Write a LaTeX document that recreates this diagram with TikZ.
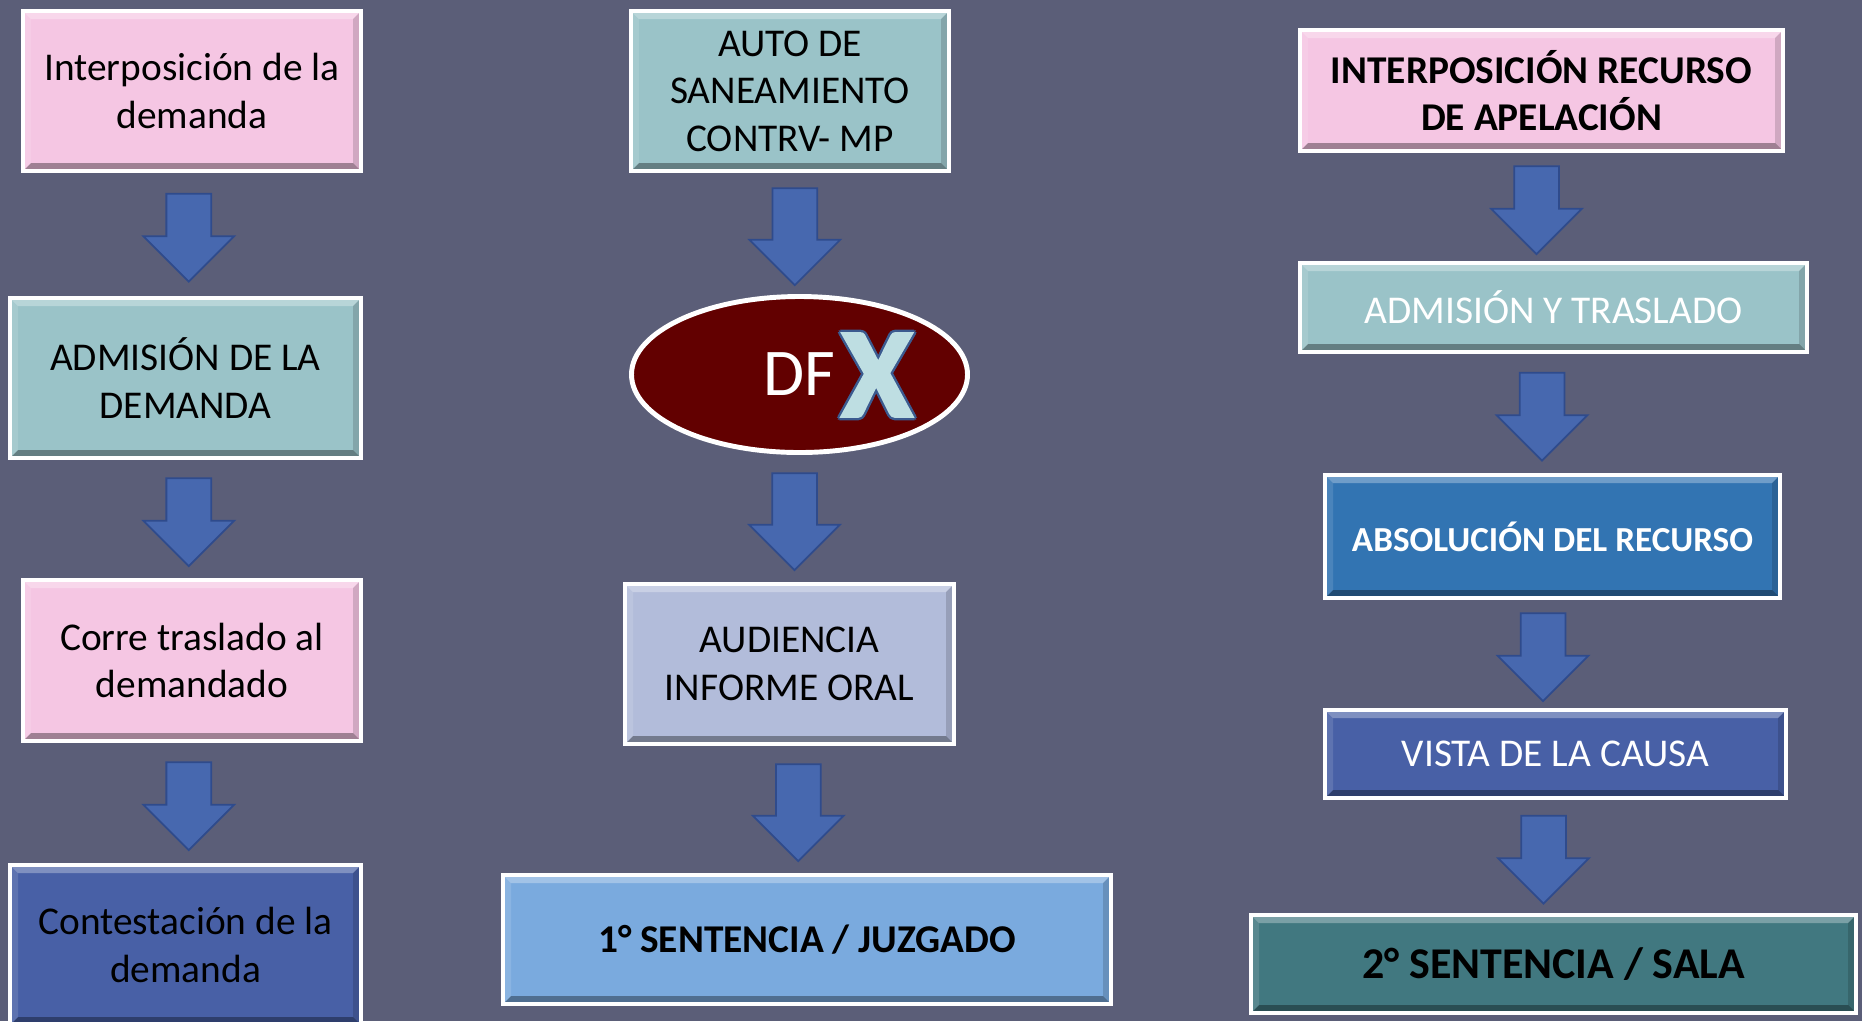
\documentclass[tikz,border=0pt]{standalone}
\usepackage{fontspec}
\setmainfont{Carlito}
\newfontfamily\equis[FakeBold=3]{Carlito Bold}
\usetikzlibrary{shapes.geometric,shapes.arrows,calc}

\definecolor{fondo}{HTML}{5B5E78}
\definecolor{rosa}{HTML}{F5C6E3}
\definecolor{verdeagua}{HTML}{9AC3C8}
\definecolor{azuloscuro}{HTML}{4860A6}
\definecolor{lavanda}{HTML}{B2BCDA}
\definecolor{celeste}{HTML}{7AAADE}
\definecolor{azulmedio}{HTML}{3274B2}
\definecolor{petroleo}{HTML}{417880}
\definecolor{granate}{HTML}{620000}
\definecolor{flecha}{HTML}{4768AF}
\definecolor{flechaborde}{HTML}{2F4B8C}
\definecolor{xrelleno}{HTML}{BEDEE2}
\definecolor{xborde}{HTML}{3B5A8F}

\begin{document}
\begin{tikzpicture}[
    bisel/.style={path picture={
        \path (path picture bounding box.south west) coordinate (sw)
              (path picture bounding box.north east) coordinate (ne)
              (sw|-ne) coordinate (nw) (ne|-sw) coordinate (se);
        \fill[white,opacity=.3] (nw) -- (ne) -- ++(-.08,-.08) -- ($(nw)+(.08,-.08)$) -- cycle;
        \fill[black,opacity=.35] (sw) -- (se) -- ++(-.08,.08) -- ($(sw)+(.08,.08)$) -- cycle;
        \fill[white,opacity=.12] (sw) -- (nw) -- ++(.08,-.08) -- ($(sw)+(.08,.08)$) -- cycle;
        \fill[black,opacity=.15] (se) -- (ne) -- ++(-.08,-.08) -- ($(se)+(-.08,.08)$) -- cycle;}},
    blk/.style={draw=white, line width=1.15pt, inner sep=2pt, align=center, bisel,
        font=\fontsize{11.2}{13.5}\selectfont},
    darrow/.style={single arrow, shape border rotate=270, draw=flechaborde, fill=flecha,
        line width=0.5pt, inner sep=0.215cm, minimum width=0.89cm, minimum height=0.88cm,
        single arrow head extend=0.23cm, single arrow tip angle=90, yshift=0.08cm}]

    \fill[fondo] (0,0) rectangle (18.62,-10.21);
    \useasboundingbox (0,0) rectangle (18.62,-10.21);

    % primera instancia
    \node[blk, fill=rosa, minimum width=3.38cm, minimum height=1.60cm] (b1) at (1.92,-0.91)
        {Interposición de la\\demanda};
    \node[blk, fill=verdeagua, minimum width=3.51cm, minimum height=1.60cm] (b2) at (1.855,-3.78)
        {ADMISIÓN DE LA\\DEMANDA};
    \node[blk, fill=rosa, minimum width=3.38cm, minimum height=1.61cm] (b3) at (1.92,-6.605)
        {Corre traslado al\\demandado};
    \node[blk, fill=azuloscuro, minimum width=3.51cm, minimum height=1.60cm] (b4) at (1.855,-9.45)
        {Contestación de la\\demanda};

    \path (b1.south) -- node[darrow] (a1) {} (b2.north);
    \path (b2.south) -- node[darrow] (a2) {} (b3.north);
    \path (b3.south) -- node[darrow] (a3) {} (b4.north);

    % saneamiento y audiencia
    \node[blk, fill=verdeagua, minimum width=3.18cm, minimum height=1.60cm] (b5) at (7.90,-0.91)
        {AUTO DE\\SANEAMIENTO\\CONTRV- MP};
    \node[ellipse, draw=white, line width=1.4pt, fill=granate, text=white,
        minimum width=3.36cm, minimum height=1.56cm, font=\fontsize{19}{22}\selectfont]
        (df) at (7.995,-3.745) {DF};
    \foreach \ang in {0,45,...,315}
        \node[text=xborde, font=\equis\fontsize{36}{36}\selectfont, inner sep=0pt]
            (xb\ang) at ($(8.77,-3.75)+(\ang:0.025)$) {X};
    \node[text=xrelleno, font=\equis\fontsize{36}{36}\selectfont, inner sep=0pt]
        (equis) at (8.77,-3.75) {X};
    \node[blk, fill=lavanda, minimum width=3.29cm, minimum height=1.60cm] (b6) at (7.895,-6.64)
        {AUDIENCIA\\INFORME ORAL};
    \node[blk, fill=celeste, minimum width=6.08cm, minimum height=1.29cm,
        font=\fontsize{11.2}{13.5}\selectfont\bfseries] (b7) at (8.07,-9.395)
        {1° SENTENCIA / JUZGADO};

    \path (b5.south) -- node[darrow, minimum height=0.97cm] (a4) {} (df.north);
    \path (df.south) -- node[darrow, minimum height=0.97cm] (a5) {} (b6.north);
    \path (b6.south) -- node[darrow, minimum height=0.97cm] (a6) {} (b7.north);

    % segunda instancia
    \node[blk, fill=rosa, minimum width=4.83cm, minimum height=1.21cm,
        font=\fontsize{11.2}{13.5}\selectfont\bfseries] (b8) at (15.415,-0.905)
        {INTERPOSICIÓN RECURSO\\DE APELACIÓN};
    \node[blk, fill=verdeagua, text=white, minimum width=5.07cm, minimum height=0.89cm]
        (b9) at (15.535,-3.075) {ADMISIÓN Y TRASLADO};
    \node[blk, fill=azulmedio, text=white, minimum width=4.55cm, minimum height=1.23cm,
        font=\fontsize{10}{12}\selectfont\bfseries] (b10) at (15.525,-5.365)
        {ABSOLUCIÓN DEL RECURSO};
    \node[blk, fill=azuloscuro, text=white, minimum width=4.61cm, minimum height=0.88cm]
        (b11) at (15.555,-7.54) {VISTA DE LA CAUSA};
    \node[blk, fill=petroleo, minimum width=6.05cm, minimum height=0.98cm,
        font=\fontsize{12.5}{15}\selectfont\bfseries] (b12) at (15.535,-9.64)
        {2° SENTENCIA / SALA};

    \path (b8.south) -- node[darrow, xshift=-1.1mm] (a7) {} (b9.north);
    \path (b9.south) -- node[darrow, xshift=-1.1mm] (a8) {} (b10.north);
    \path (b10.south) -- node[darrow, xshift=-1.1mm] (a9) {} (b11.north);
    \path (b11.south) -- node[darrow, xshift=-1.1mm] (a10) {} (b12.north);
\end{tikzpicture}
\end{document}
